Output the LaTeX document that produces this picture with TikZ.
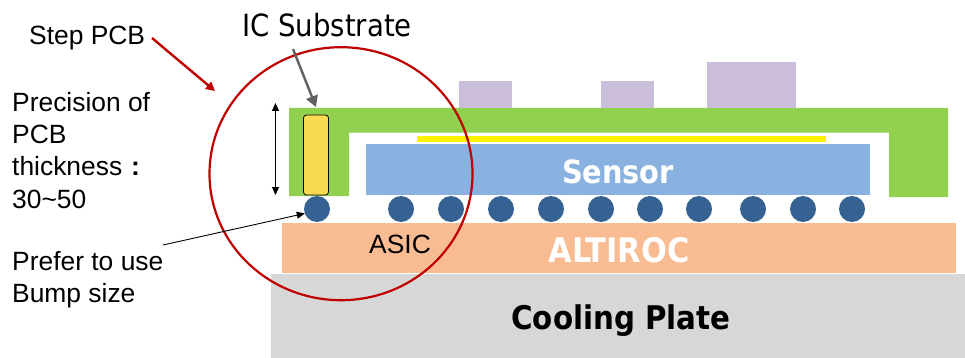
\documentclass[tikz,border=0pt]{standalone}
\usepackage{fontspec}
\setmainfont{Liberation Sans}
\newfontfamily\tahc{DejaVu Sans Condensed}
\usetikzlibrary{arrows.meta,shapes.geometric}
\definecolor{pcbgreen}{HTML}{92D14F}
\definecolor{icyellow}{HTML}{F9DA50}
\definecolor{sensorblue}{HTML}{8AB2E0}
\definecolor{bumpblue}{HTML}{356292}
\definecolor{asicorange}{HTML}{F9BC92}
\definecolor{coolgray}{HTML}{D7D7D7}
\definecolor{comppurple}{HTML}{CBBEDB}
\definecolor{circred}{HTML}{C00000}
\definecolor{arrowgray}{HTML}{606060}
\tikzset{
  block/.style={inner sep=0pt,outer sep=0pt,anchor=north west},
  comp/.style={block,fill=comppurple},
  bump/.style={circle,fill=bumpblue,minimum size=26pt,inner sep=0pt,outer sep=0pt},
  lbl/.style={anchor=west,font=\fontsize{26.4}{30}\selectfont,inner sep=0pt,align=left},
  tiplabel/.style={anchor=center,inner sep=0pt}
}
\begin{document}
\begin{tikzpicture}[x=1pt,y=-1pt]
\useasboundingbox (0,0) rectangle (965,358);
% cooling plate and ASIC
\node[block,fill=coolgray,minimum width=694pt,minimum height=84pt] (cool) at (271,274) {};
\node[tiplabel,font=\tahc\bfseries\fontsize{32.6}{36}\selectfont] (coolt) at (621,321) {Cooling Plate};
\node[block,fill=asicorange,minimum width=674pt,minimum height=50.5pt] (asicb) at (282,222.5) {};
\node[tiplabel,font=\tahc\bfseries\fontsize{33.8}{36}\selectfont,text=white] (alt) at (619,250) {ALTIROC};
% PCB
\fill[pcbgreen] (289,108) -- (948,108) -- (948,197) -- (889,197) -- (889,132.7) -- (349,132.7) -- (349,196) -- (289,196) -- cycle;
% components
\node[comp,minimum width=53pt,minimum height=27pt] (c1) at (459,81) {};
\node[comp,minimum width=53pt,minimum height=27pt] (c2) at (601,81) {};
\node[comp,minimum width=89pt,minimum height=46pt] (c3) at (707,62) {};
% yellow line and sensor
\node[block,fill=yellow,minimum width=409pt,minimum height=6pt] (yl) at (417,136) {};
\node[block,fill=sensorblue,minimum width=504pt,minimum height=51pt] (sens) at (366,144) {};
\node[tiplabel,font=\tahc\bfseries\fontsize{32}{36}\selectfont,text=white] (senst) at (618,171.5) {Sensor};
% IC
\node[block,draw=black,line width=0.8pt,fill=icyellow,rounded corners=3pt,minimum width=25pt,minimum height=80pt] (ic) at (303.5,115) {};
% bumps
\foreach \i/\x in {0/317,1/401,2/451,3/501,4/551,5/601,6/650,7/699,8/753,9/803,10/852}
  \node[bump] (b\i) at (\x,209) {};
% ASIC label
\node[tiplabel,font=\fontsize{26.4}{30}\selectfont] (asict) at (400,244) {ASIC};
% circle
\node[ellipse,draw=circred,line width=2.2pt,minimum width=263pt,minimum height=253pt,inner sep=0pt] (ring) at (341,173.7) {};
% labels
\node[lbl] (step) at (29,38) {Step PCB};
\node[tiplabel,font=\tahc\fontsize{30.6}{34}\selectfont] (sub) at (327,25) {IC Substrate};
\node[lbl,anchor=north west,font=\fontsize{26.4}{32.3}\selectfont] (prec) at (12,92) {Precision of\\PCB\\thickness\,\,\textbf{:}\\30\textasciitilde 50};
\node[lbl,anchor=north west,font=\fontsize{26.4}{32.5}\selectfont] (pref) at (12,251) {Prefer to use\\Bump size};
% connectors
\coordinate (r0) at (152,38); \coordinate (r1) at (215,91);
\draw[circred,line width=2.4pt,-{Triangle[length=9pt,width=9pt]}] (r0) -- (r1);
\coordinate (g0) at (293,49); \coordinate (g1) at (316,107);
\draw[arrowgray,line width=2.4pt,-{Triangle[length=11pt,width=12pt]}] (g0) -- (g1);
\coordinate (d0) at (275.5,103); \coordinate (d1) at (275.5,195);
\draw[black,line width=0.9pt,{Triangle[length=8pt,width=7pt]}-{Triangle[length=8pt,width=7pt]}] (d0) -- (d1);
\coordinate (p0) at (163,245);
\draw[black,line width=0.9pt,-{Triangle[length=8pt,width=7pt]}] (p0) -- (b0.200);
\end{tikzpicture}
\end{document}
